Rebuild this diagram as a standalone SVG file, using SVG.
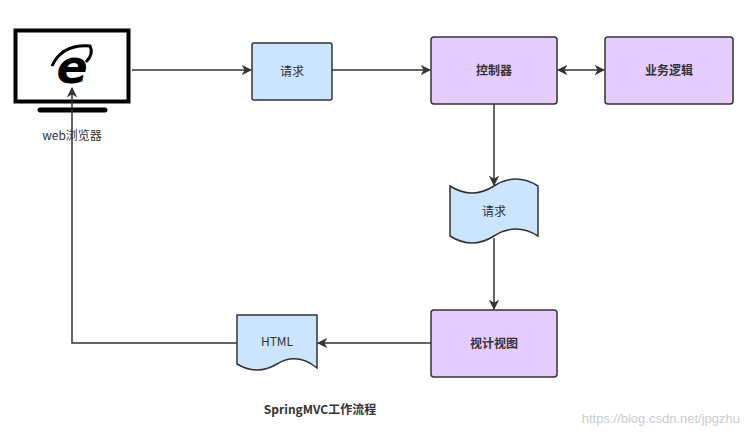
<svg xmlns="http://www.w3.org/2000/svg" width="748" height="434" viewBox="0 0 748 434">
<defs>
<marker id="ah" viewBox="0 0 10 10" refX="9" refY="5" markerWidth="7" markerHeight="7" orient="auto-start-reverse"><path d="M0,0 L10,5 L0,10 L3,5 Z" fill="#333"/></marker>
<style>
.blue{fill:#cce5ff;stroke:#333;stroke-width:1.5}
.purple{fill:#e5ccff;stroke:#333;stroke-width:1.5}
.t{font-family:"Microsoft YaHei","Noto Sans CJK SC",sans-serif;font-size:12px;fill:#333;text-anchor:middle}
.b{font-weight:bold}
.c{fill:none;stroke:#333;stroke-width:1.5}
</style>
</defs>
<rect width="748" height="434" fill="#fff"/>
<g id="browser">
<rect x="15.5" y="30.5" width="113" height="71" fill="#fff" stroke="#000" stroke-width="4"/>
<line x1="40" y1="110" x2="105" y2="110" stroke="#000" stroke-width="5" stroke-linecap="round"/>
<text x="72" y="83" font-family="DejaVu Sans,sans-serif" font-style="italic" font-weight="bold" font-size="46" text-anchor="middle" fill="#000">e</text>
<path d="M52,66 Q62,44 90,46 Q94,54 86,62" fill="none" stroke="#000" stroke-width="3"/>
<text class="t" x="72" y="140">web浏览器</text>
</g>
<g id="req1"><rect class="blue" x="252" y="43" width="80" height="57" rx="2"/><text class="t" x="292" y="76">请求</text></g>
<g id="ctrl"><rect class="purple" x="431" y="37" width="126" height="67" rx="3"/><text class="t b" x="494" y="75">控制器</text></g>
<g id="biz"><rect class="purple" x="605" y="37" width="128" height="67" rx="3"/><text class="t b" x="669" y="75">业务逻辑</text></g>
<g id="req2"><path class="blue" d="M450,186 Q472,200 494,186 Q516,172 538,186 L538,236 Q516,222 494,236 Q472,250 450,236 Z"/><text class="t" x="494" y="216">请求</text></g>
<g id="view"><rect class="purple" x="431" y="310" width="126" height="67" rx="3"/><text class="t b" x="494" y="348">视计视图</text></g>
<g id="html"><path class="blue" d="M237,315 L317,315 L317,368 Q297,352 277,364 Q257,376 237,364 Z"/><text class="t" x="277" y="346">HTML</text></g>
<g id="connectors">
<line class="c" x1="132" y1="70" x2="251" y2="70" marker-end="url(#ah)"/>
<line class="c" x1="332" y1="70" x2="430" y2="70" marker-end="url(#ah)"/>
<line class="c" x1="558" y1="70" x2="604" y2="70" marker-start="url(#ah)" marker-end="url(#ah)"/>
<line class="c" x1="494" y1="104" x2="494" y2="185" marker-end="url(#ah)"/>
<line class="c" x1="494" y1="238" x2="494" y2="309" marker-end="url(#ah)"/>
<line class="c" x1="431" y1="343" x2="318" y2="343" marker-end="url(#ah)"/>
<polyline class="c" points="237,343 72,343 72,88" marker-end="url(#ah)"/>
</g>
<text class="t b" x="320" y="414" font-size="14">SpringMVC工作流程</text>
<text x="740" y="423" font-family="Liberation Sans,sans-serif" font-size="13" fill="#ccc" text-anchor="end">https://blog.csdn.net/jpgzhu</text>
</svg>
